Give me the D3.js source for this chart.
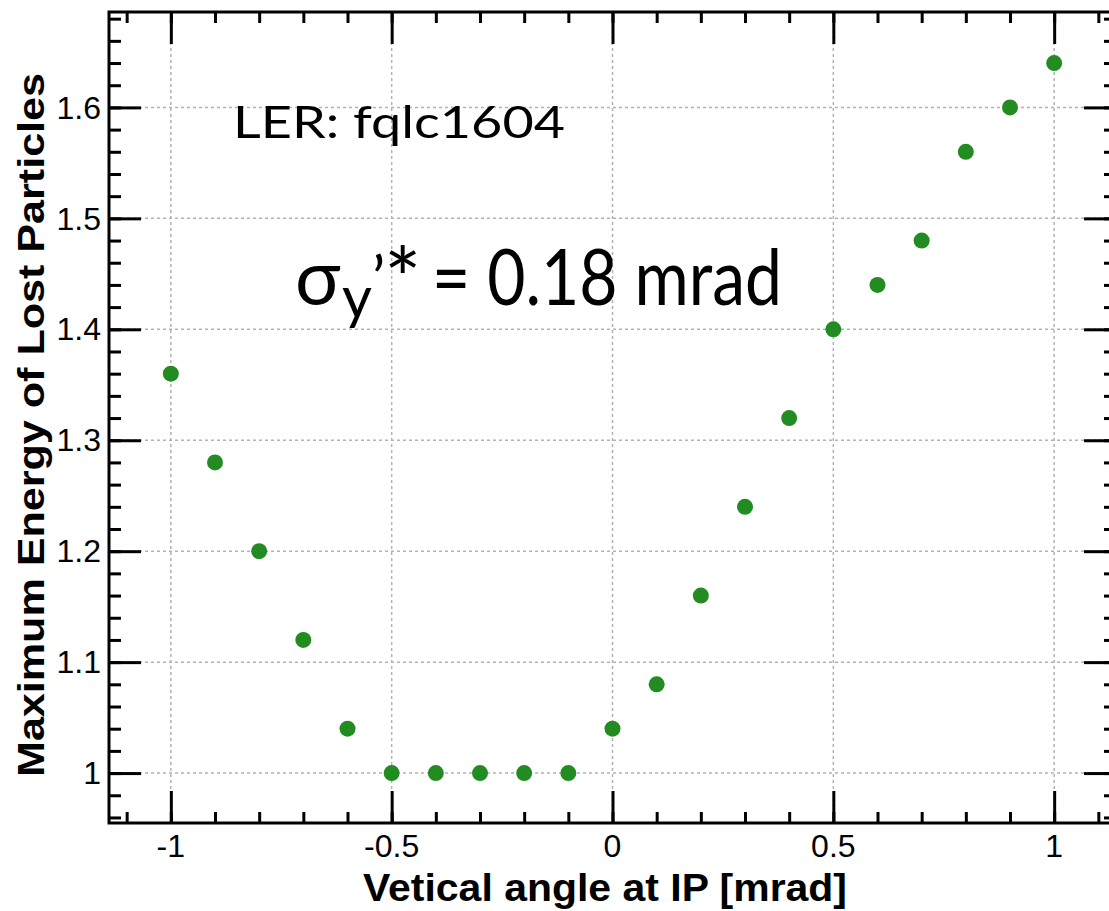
<!DOCTYPE html>
<html>
<head>
<meta charset="utf-8">
<script src="https://cdn.jsdelivr.net/npm/d3@7"></script>
<style>
  body { margin: 0; background: #fff; }
  .tick-label { font-family: "Liberation Sans", Arial, sans-serif; font-size: 32px; fill: #000; }
  .axis-title { font-family: "Liberation Sans", Arial, sans-serif; font-weight: bold; fill: #000; }
  .note { font-family: Lato, "Open Sans", sans-serif; fill: #000; }
</style>
</head>
<body>
<div id="chart"></div>
<script>
// values
const angle = [-1, -0.9, -0.8, -0.7, -0.6, -0.5, -0.4, -0.3, -0.2, -0.1, 0, 0.1, 0.2, 0.3, 0.4, 0.5, 0.6, 0.7, 0.8, 0.9, 1];
const energy = [1.36, 1.28, 1.20, 1.12, 1.04, 1.00, 1.00, 1.00, 1.00, 1.00, 1.04, 1.08, 1.16, 1.24, 1.32, 1.40, 1.44, 1.48, 1.56, 1.60, 1.64];
const xTicks = [-1, -0.5, 0, 0.5, 1];
const xTickLabels = ["-1", "-0.5", "0", "0.5", "1"];
const yTicks = [1, 1.1, 1.2, 1.3, 1.4, 1.5, 1.6];
const yTickLabels = ["1", "1.1", "1.2", "1.3", "1.4", "1.5", "1.6"];

(function energy_plot() {
  const width = 1109,
    height = 911,
    margin = {top: 12, right: -7, bottom: 88, left: 109};

  const svg = d3.select("#chart")
    .append("svg")
    .attr("width", width)
    .attr("height", height);

  let x = d3.scaleLinear([-1.14, 1.14], [margin.left, width - margin.right]);
  let y = d3.scaleLinear([0.955, 1.686], [height - margin.bottom, margin.top]);

  const x0 = x.range()[0], x1 = x.range()[1];
  const y0 = y.range()[0], y1 = y.range()[1];

  // dotted grid at the major ticks
  svg.append("g")
    .selectAll("line")
    .data(xTicks)
    .join("line")
    .attr("x1", d => x(d)).attr("x2", d => x(d))
    .attr("y1", y1).attr("y2", y0)
    .attr("stroke", "#b3b3b3")
    .attr("stroke-width", 1.5)
    .attr("stroke-dasharray", "3,3");

  svg.append("g")
    .selectAll("line")
    .data(yTicks)
    .join("line")
    .attr("x1", x0).attr("x2", x1)
    .attr("y1", d => y(d)).attr("y2", d => y(d))
    .attr("stroke", "#b3b3b3")
    .attr("stroke-width", 1.5)
    .attr("stroke-dasharray", "3,3");

  // axes on all four sides, long major and short minor ticks
  const xMinor = d3.range(-11, 12).map(d => d / 10);
  const yMinor = d3.range(48, 85).map(d => d / 50);
  const tickAttrs = g => g.call(s => s.select(".domain").remove())
    .selectAll("line").attr("stroke", "#000").attr("stroke-width", 3);

  svg.append("g").attr("transform", `translate(0,${y0})`)
    .call(d3.axisTop(x).tickValues(xMinor).tickSize(11).tickFormat(""))
    .call(tickAttrs);
  svg.append("g").attr("transform", `translate(0,${y0})`)
    .call(d3.axisTop(x).tickValues(xTicks).tickSize(32).tickFormat(""))
    .call(tickAttrs);
  svg.append("g").attr("transform", `translate(0,${y1})`)
    .call(d3.axisBottom(x).tickValues(xMinor).tickSize(11).tickFormat(""))
    .call(tickAttrs);
  svg.append("g").attr("transform", `translate(0,${y1})`)
    .call(d3.axisBottom(x).tickValues(xTicks).tickSize(32).tickFormat(""))
    .call(tickAttrs);

  svg.append("g").attr("transform", `translate(${x0},0)`)
    .call(d3.axisRight(y).tickValues(yMinor).tickSize(12).tickFormat(""))
    .call(tickAttrs);
  svg.append("g").attr("transform", `translate(${x0},0)`)
    .call(d3.axisRight(y).tickValues(yTicks).tickSize(32).tickFormat(""))
    .call(tickAttrs);
  svg.append("g").attr("transform", `translate(${x1},0)`)
    .call(d3.axisLeft(y).tickValues(yMinor).tickSize(12).tickFormat(""))
    .call(tickAttrs);
  svg.append("g").attr("transform", `translate(${x1},0)`)
    .call(d3.axisLeft(y).tickValues(yTicks).tickSize(32).tickFormat(""))
    .call(tickAttrs);

  svg.append("rect")
    .attr("x", x0).attr("y", y1)
    .attr("width", x1 - x0).attr("height", y0 - y1)
    .attr("fill", "none")
    .attr("stroke", "#000")
    .attr("stroke-width", 3);

  // tick labels
  svg.append("g")
    .selectAll("text")
    .data(xTicks)
    .join("text")
    .attr("class", "tick-label")
    .attr("text-anchor", "middle")
    .attr("x", d => x(d))
    .attr("y", y0 + 34)
    .text((d, i) => xTickLabels[i]);

  svg.append("g")
    .selectAll("text")
    .data(yTicks)
    .join("text")
    .attr("class", "tick-label")
    .attr("text-anchor", "end")
    .attr("x", x0 - 8)
    .attr("y", d => y(d))
    .attr("dy", "0.35em")
    .text((d, i) => yTickLabels[i]);

  // axis titles
  svg.append("text")
    .attr("class", "axis-title")
    .attr("font-size", 38)
    .attr("x", 363)
    .attr("y", 901)
    .attr("textLength", 484)
    .attr("lengthAdjust", "spacingAndGlyphs")
    .text("Vetical angle at IP [mrad]");

  svg.append("text")
    .attr("class", "axis-title")
    .attr("font-size", 36)
    .attr("transform", "translate(44,777) rotate(-90)")
    .attr("textLength", 704)
    .attr("lengthAdjust", "spacingAndGlyphs")
    .text("Maximum Energy of Lost Particles");

  // points
  svg.append("g")
    .selectAll("circle")
    .data(angle)
    .join("circle")
    .attr("cx", d => x(d))
    .attr("cy", (d, i) => y(energy[i]))
    .attr("r", 8)
    .attr("fill", "#228b22");

  // annotations
  svg.append("text")
    .attr("class", "note")
    .attr("font-size", 45)
    .attr("x", 233)
    .attr("y", 138)
    .attr("textLength", 332)
    .attr("lengthAdjust", "spacingAndGlyphs")
    .text("LER: fqlc1604");

  // sigma_y'* = 0.18 mrad, one text element built from pieces
  const sig = svg.append("text").attr("class", "note").attr("font-size", 76);
  sig.append("tspan").attr("x", 295).attr("y", 305).text("σ");
  sig.append("tspan").attr("x", 342).attr("y", 318).attr("font-size", 58).text("y");
  sig.append("tspan").attr("x", 372).attr("y", 301).attr("font-size", 62).text("’");
  sig.append("tspan").attr("x", 384).attr("y", 311).attr("font-size", 88).text("*");
  sig.append("tspan").attr("x", 432).attr("y", 305).attr("font-size", 78)
    .attr("textLength", 350)
    .attr("lengthAdjust", "spacingAndGlyphs")
    .text("= 0.18 mrad");
})();
</script>
</body>
</html>
